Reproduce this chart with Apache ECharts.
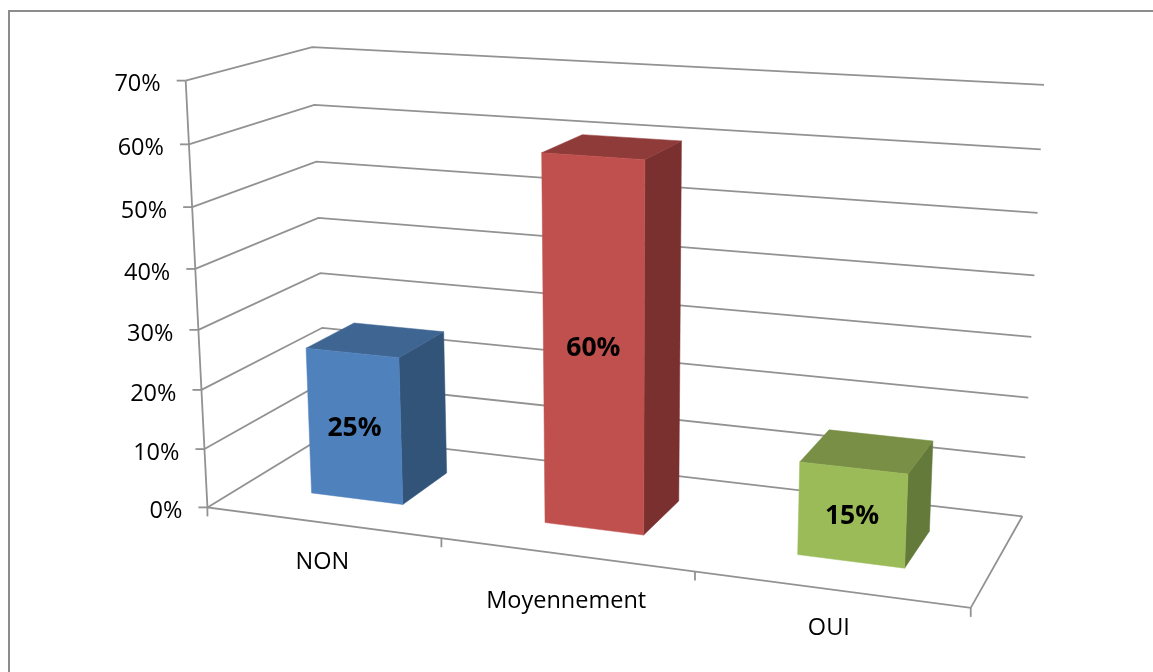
<!DOCTYPE html>
<html>
<head>
<meta charset="utf-8">
<title>Répartition des réponses</title>
<style>
  html, body { margin: 0; padding: 0; background: #fff; }
  #chart { width: 1153px; height: 672px; }
</style>
<script src="https://cdn.jsdelivr.net/npm/echarts@6/dist/echarts.min.js"></script>
</head>
<body>
<div id="chart"></div>
<script>
// Chart data
const categories = ['NON', 'Moyennement', 'OUI'];
const shares = [0.25, 0.6, 0.15];
const shareLabels = ['25%', '60%', '15%'];
const axisTicks = [0, 0.1, 0.2, 0.3, 0.4, 0.5, 0.6, 0.7];
const axisMax = 0.7;

// Bar colours: front, top and side faces
const frontColors = ['#4F81BD', '#C0504D', '#9BBB59'];
const topColors = ['#3F6592', '#8E3B39', '#788F45'];
const sideColors = ['#335479', '#7A302F', '#647A3A'];

// Bar footprint inside the box, in box units
const barWidthShare = 0.4;
const barFrontDepth = 0.295;
const barBackDepth = 0.71;

// Reference points of the box: [across, up, depth, screenX, screenY]
const cameraAnchors = [
  [0, 0 / 7, 0, 208, 507], [0, 1 / 7, 0, 204, 448], [0, 2 / 7, 0, 201, 390], [0, 3 / 7, 0, 198, 330],
  [0, 4 / 7, 0, 195, 269], [0, 5 / 7, 0, 192, 207], [0, 6 / 7, 0, 189, 145], [0, 7 / 7, 0, 186, 82],
  [0, 1 / 7, 1, 325, 384], [0, 2 / 7, 1, 323, 328], [0, 3 / 7, 1, 320, 273], [0, 4 / 7, 1, 318, 217],
  [0, 5 / 7, 1, 316, 161], [0, 6 / 7, 1, 314, 104], [0, 7 / 7, 1, 313, 47],
  [1, 0 / 7, 1, 1022, 516], [1, 1 / 7, 1, 1025, 458], [1, 2 / 7, 1, 1028, 398], [1, 3 / 7, 1, 1031, 337],
  [1, 4 / 7, 1, 1034, 275], [1, 5 / 7, 1, 1038, 212], [1, 6 / 7, 1, 1041, 150], [1, 7 / 7, 1, 1044, 85],
  [1 / 3, 0, 0, 441, 538], [2 / 3, 0, 0, 695, 571], [1, 0, 0, 972, 608]
];

// Least-squares fit of the 3D-to-screen projective camera
function fitCamera(anchors) {
  const n = 11, A = [], b = [];
  for (let i = 0; i < n; i++) { A.push(new Array(n).fill(0)); b.push(0); }
  const addRow = (row, t) => {
    for (let i = 0; i < n; i++) {
      b[i] += row[i] * t;
      for (let j = 0; j < n; j++) A[i][j] += row[i] * row[j];
    }
  };
  anchors.forEach(([u, v, w, sx, sy]) => {
    const x = sx / 1000, y = sy / 1000;
    addRow([u, v, w, 1, 0, 0, 0, 0, -x * u, -x * v, -x * w], x);
    addRow([0, 0, 0, 0, u, v, w, 1, -y * u, -y * v, -y * w], y);
  });
  for (let c = 0; c < n; c++) {
    let pivot = c;
    for (let r = c + 1; r < n; r++) if (Math.abs(A[r][c]) > Math.abs(A[pivot][c])) pivot = r;
    [A[c], A[pivot]] = [A[pivot], A[c]];
    [b[c], b[pivot]] = [b[pivot], b[c]];
    for (let r = 0; r < n; r++) {
      if (r === c) continue;
      const f = A[r][c] / A[c][c];
      for (let k = c; k < n; k++) A[r][k] -= f * A[c][k];
      b[r] -= f * b[c];
    }
  }
  return b.map((val, i) => val / A[i][i]);
}

const cam = fitCamera(cameraAnchors);
function project(u, v, w) {
  const d = cam[8] * u + cam[9] * v + cam[10] * w + 1;
  return [
    1000 * (cam[0] * u + cam[1] * v + cam[2] * w + cam[3]) / d,
    1000 * (cam[4] * u + cam[5] * v + cam[6] * w + cam[7]) / d
  ];
}

// Read box units back from the hidden cartesian grid
function boxUnits(params, api, catIndex, value) {
  const area = params.coordSys;
  const pt = api.coord([catIndex, value]);
  const band = api.size([1, 0])[0];
  return {
    center: (pt[0] - area.x) / area.width,
    band: band / area.width,
    up: (area.y + area.height - pt[1]) / area.height
  };
}

const lineStyle = { stroke: '#929292', lineWidth: 1.8, fill: null };
const axisFont = '23.5px "Open Sans", sans-serif';
const valueFont = 'bold 26.5px "Open Sans", sans-serif';
const tickLength = 9;
const valueLabelGap = 25;
const valueLabelDrop = 4;
const barLabelDrop = 2;
const categoryLabelDrop = [40, 47, 39];
const categoryLabelShift = [-2, -2, -4];

function line(points) {
  return { type: 'polyline', silent: true, shape: { points }, style: lineStyle };
}
function text(str, x, y, font, align) {
  return {
    type: 'text', silent: true,
    style: { text: str, x, y, font, fill: '#000', textAlign: align, textVerticalAlign: 'middle' }
  };
}
function face(points, color) {
  return { type: 'polygon', silent: true, shape: { points }, style: { fill: color, stroke: color, lineWidth: 0.5 } };
}

// Back wall, left wall and floor grid lines, one per value tick
function renderGridLine(params, api) {
  const val = api.value(1);
  const { up } = boxUnits(params, api, 0, val);
  const front = project(0, up, 0);
  return {
    type: 'group',
    children: [
      line([front, project(0, up, 1), project(1, up, 1)]),
      line([[front[0] - tickLength, front[1]], front]),
      text(Math.round(val * 100) + '%', front[0] - valueLabelGap, front[1] + valueLabelDrop, axisFont, 'right')
    ]
  };
}

// Value axis edge and the open edges of the floor
function renderFrame() {
  return {
    type: 'group',
    children: [
      line([project(0, 1, 0), project(0, 0, 0), project(1, 0, 0), project(1, 0, 1)])
    ]
  };
}

// Category ticks under the front floor edge with their labels
function renderCategory(params, api) {
  const i = api.value(0);
  const b = boxUnits(params, api, i, 0);
  const left = project(b.center - b.band / 2, 0, 0);
  const right = project(b.center + b.band / 2, 0, 0);
  const mid = project(b.center, 0, 0);
  const children = [
    line([left, [left[0], left[1] + tickLength]]),
    text(categories[i], (left[0] + right[0]) / 2 + categoryLabelShift[i], mid[1] + categoryLabelDrop[i], axisFont, 'center')
  ];
  if (i === categories.length - 1) children.push(line([right, [right[0], right[1] + tickLength]]));
  return { type: 'group', children };
}

// One perspective box per category, with its value on the front face
function renderBar(params, api) {
  const i = api.value(0);
  const b = boxUnits(params, api, i, api.value(1));
  const half = b.band * barWidthShare / 2;
  const l = b.center - half, r = b.center + half;
  const f = barFrontDepth, k = barBackDepth, t = b.up;
  const labelPos = project(b.center, t / 2, f);
  return {
    type: 'group',
    children: [
      face([project(r, 0, f), project(r, 0, k), project(r, t, k), project(r, t, f)], sideColors[i]),
      face([project(l, t, f), project(l, t, k), project(r, t, k), project(r, t, f)], topColors[i]),
      face([project(l, 0, f), project(r, 0, f), project(r, t, f), project(l, t, f)], frontColors[i]),
      text(shareLabels[i], labelPos[0], labelPos[1] + barLabelDrop, valueFont, 'center')
    ]
  };
}

const chart = echarts.init(document.getElementById('chart'), null, { renderer: 'canvas' });
chart.setOption({
  animation: false,
  backgroundColor: '#fff',
  grid: { left: 200, top: 100, width: 600, height: 400 },
  xAxis: { type: 'category', data: categories, show: false },
  yAxis: { type: 'value', min: 0, max: axisMax, interval: 0.1, show: false },
  graphic: [{
    type: 'rect', silent: true, z: 0,
    shape: { x: 9, y: 11, width: 1300, height: 800 },
    style: { fill: null, stroke: '#8C8C8C', lineWidth: 2 }
  }],
  series: [
    { type: 'custom', z: 1, renderItem: renderGridLine, encode: { x: 0, y: 1 }, data: axisTicks.map(v => [0, v]) },
    { type: 'custom', z: 1, renderItem: renderFrame, encode: { x: 0, y: 1 }, data: [[0, 0]] },
    { type: 'custom', z: 1, renderItem: renderCategory, encode: { x: 0, y: 1 }, data: categories.map((c, i) => [i, 0]) },
    { type: 'custom', z: 2, renderItem: renderBar, encode: { x: 0, y: 1 }, data: categories.map((c, i) => [i, shares[i]]) }
  ]
});
</script>
</body>
</html>
